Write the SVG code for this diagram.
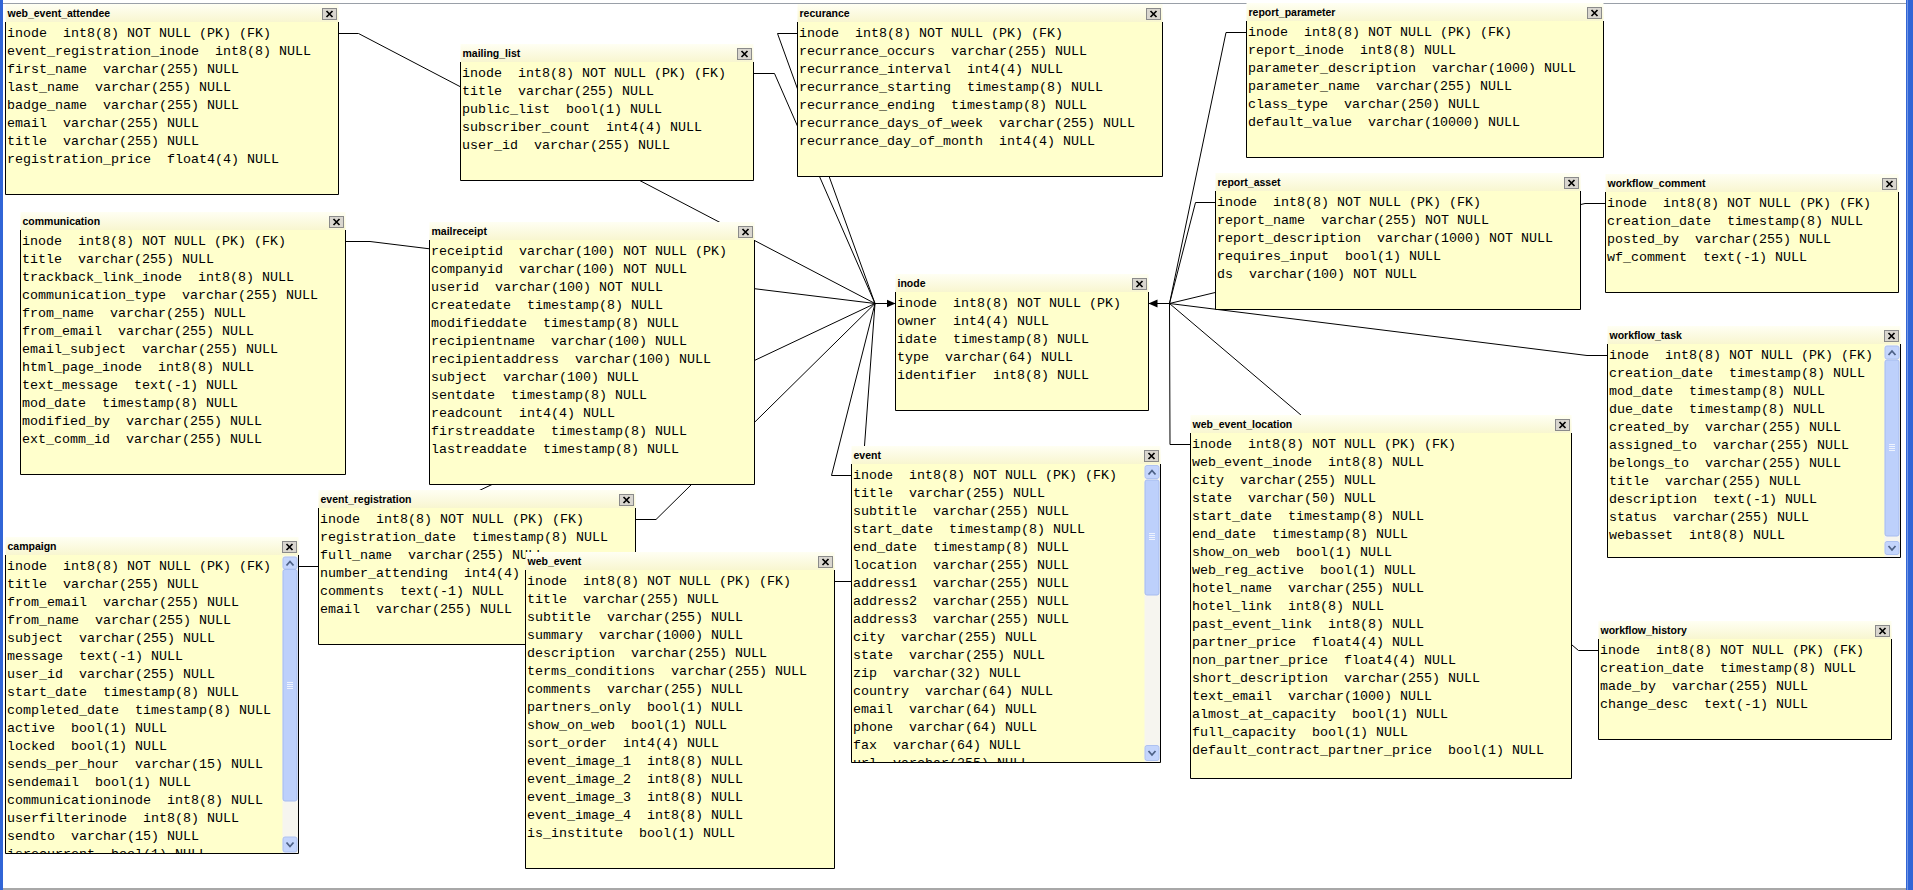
<svg xmlns="http://www.w3.org/2000/svg" width="1913" height="890" viewBox="0 0 1913 890" xml:space="preserve">
<style>
.hd{fill:url(#hg)}
.bd{fill:#ffffcc}
.bdr{fill:none;stroke:#000;stroke-width:1}
.t{font-family:"Liberation Sans",Arial,sans-serif;font-weight:bold;font-size:10.5px;fill:#000}
.r{font-family:"Liberation Mono","Courier New",monospace;font-size:13.33px;fill:#000;white-space:pre}
.cn{fill:none;stroke:#000;stroke-width:1}
.sbt{fill:#f6f5ef}
.sbb{fill:#c4d5fc;stroke:#aec2f0;stroke-width:1}
.sbth{fill:#bdd0fb;stroke:#a6bcef;stroke-width:1}
.chev{fill:none;stroke:#4d6185;stroke-width:1.8}
.grip{fill:none;stroke:#eef3fe;stroke-width:1}
</style>
<defs>
<linearGradient id="hg" x1="0" y1="0" x2="0" y2="1"><stop offset="0" stop-color="#fffff3"/><stop offset="1" stop-color="#f8f6d0"/></linearGradient>
<g id="xb"><rect x="0.5" y="0.5" width="14" height="11" fill="#d9d6cf" stroke="#8a8a8a"/><path d="M4.5,3 L10.5,9 M10.5,3 L4.5,9" stroke="#000" stroke-width="1.7" fill="none"/></g>
<marker id="arr" viewBox="0 0 9 9" refX="9" refY="4.5" markerWidth="9" markerHeight="9" markerUnits="userSpaceOnUse" orient="auto"><path d="M0,0.5 L9,4.5 L0,8.5 z" fill="#000"/></marker>
<clipPath id="cEvent"><rect x="0" y="0" width="293" height="298"/></clipPath>
<clipPath id="cCamp"><rect x="0" y="0" width="277" height="298"/></clipPath>
</defs>

<rect x="0" y="0" width="1913" height="890" fill="#fff"/>
<line x1="0" y1="3.5" x2="1913" y2="3.5" stroke="#9aa0a8"/>
<rect x="0" y="888" width="1913" height="2" fill="#a8a8a8"/>
<rect x="0" y="0" width="3" height="890" fill="#3165d6"/>
<rect x="1906" y="0" width="7" height="890" fill="#3165d6"/>
<line x1="1907.5" y1="0" x2="1907.5" y2="890" stroke="#7397e6"/>

<g id="connectors">
<path class="cn" d="M338.5,33.5 H358.5 L875,303.5"/>
<path class="cn" d="M753.5,73.5 H774.5 L875,303.5"/>
<path class="cn" d="M797.5,33.5 H777.5 L875,303.5"/>
<path class="cn" d="M345.5,241.5 H370 L875,303.5"/>
<path class="cn" d="M298.5,566.5 H318.5 L875,303.5"/>
<path class="cn" d="M635.5,519.5 H656 L875,303.5"/>
<path class="cn" d="M834.5,581.5 H854.5 L875,303.5"/>
<path class="cn" d="M851.5,475.5 H831.5 L875,303.5"/>
<path class="cn" d="M875,303.5 H895.5" marker-end="url(#arr)"/>
<path class="cn" d="M1246.5,32.5 H1226 L1169.5,303.5"/>
<path class="cn" d="M1215.5,202.5 H1195.5 L1169.5,303.5"/>
<path class="cn" d="M1605.5,203.5 H1585 L1169.5,303.5"/>
<path class="cn" d="M1607.5,355.5 H1587 L1169.5,303.5"/>
<path class="cn" d="M1598.5,650.5 H1578.5 L1169.5,303.5"/>
<path class="cn" d="M1190.5,444.5 H1170 L1169.5,303.5"/>
<path class="cn" d="M1169.5,303.5 H1148.5" marker-end="url(#arr)"/>
</g>

<g id="web_event_attendee" transform="translate(5.5,22)">
<rect class="hd" x="0" y="-18" width="333" height="18"/><rect class="bd" x="0" y="0" width="333" height="172.5"/><path class="bdr" d="M0,0V172.5H333V0"/>
<text class="t" x="2" y="-5.5">web_event_attendee</text><use href="#xb" x="316.5" y="-14"/>
<text class="r" x="1.5" y="14.5">inode  int8(8) NOT NULL (PK) (FK)</text>
<text class="r" x="1.5" y="32.5">event_registration_inode  int8(8) NULL</text>
<text class="r" x="1.5" y="50.5">first_name  varchar(255) NULL</text>
<text class="r" x="1.5" y="68.5">last_name  varchar(255) NULL</text>
<text class="r" x="1.5" y="86.5">badge_name  varchar(255) NULL</text>
<text class="r" x="1.5" y="104.5">email  varchar(255) NULL</text>
<text class="r" x="1.5" y="122.5">title  varchar(255) NULL</text>
<text class="r" x="1.5" y="140.5">registration_price  float4(4) NULL</text>
</g>

<g id="mailing_list" transform="translate(460.5,62)">
<rect class="hd" x="0" y="-18" width="293" height="18"/><rect class="bd" x="0" y="0" width="293" height="118.5"/><path class="bdr" d="M0,0V118.5H293V0"/>
<text class="t" x="2" y="-5.5">mailing_list</text><use href="#xb" x="276.5" y="-14"/>
<text class="r" x="1.5" y="14.5">inode  int8(8) NOT NULL (PK) (FK)</text>
<text class="r" x="1.5" y="32.5">title  varchar(255) NULL</text>
<text class="r" x="1.5" y="50.5">public_list  bool(1) NULL</text>
<text class="r" x="1.5" y="68.5">subscriber_count  int4(4) NULL</text>
<text class="r" x="1.5" y="86.5">user_id  varchar(255) NULL</text>
</g>

<g id="recurance" transform="translate(797.5,22)">
<rect class="hd" x="0" y="-18" width="365" height="18"/><rect class="bd" x="0" y="0" width="365" height="154.5"/><path class="bdr" d="M0,0V154.5H365V0"/>
<text class="t" x="2" y="-5.5">recurance</text><use href="#xb" x="348.5" y="-14"/>
<text class="r" x="1.5" y="14.5">inode  int8(8) NOT NULL (PK) (FK)</text>
<text class="r" x="1.5" y="32.5">recurrance_occurs  varchar(255) NULL</text>
<text class="r" x="1.5" y="50.5">recurrance_interval  int4(4) NULL</text>
<text class="r" x="1.5" y="68.5">recurrance_starting  timestamp(8) NULL</text>
<text class="r" x="1.5" y="86.5">recurrance_ending  timestamp(8) NULL</text>
<text class="r" x="1.5" y="104.5">recurrance_days_of_week  varchar(255) NULL</text>
<text class="r" x="1.5" y="122.5">recurrance_day_of_month  int4(4) NULL</text>
</g>

<g id="report_parameter" transform="translate(1246.5,21)">
<rect class="hd" x="0" y="-18" width="357" height="18"/><rect class="bd" x="0" y="0" width="357" height="136.5"/><path class="bdr" d="M0,0V136.5H357V0"/>
<text class="t" x="2" y="-5.5">report_parameter</text><use href="#xb" x="340.5" y="-14"/>
<text class="r" x="1.5" y="14.5">inode  int8(8) NOT NULL (PK) (FK)</text>
<text class="r" x="1.5" y="32.5">report_inode  int8(8) NULL</text>
<text class="r" x="1.5" y="50.5">parameter_description  varchar(1000) NULL</text>
<text class="r" x="1.5" y="68.5">parameter_name  varchar(255) NULL</text>
<text class="r" x="1.5" y="86.5">class_type  varchar(250) NULL</text>
<text class="r" x="1.5" y="104.5">default_value  varchar(10000) NULL</text>
</g>

<g id="report_asset" transform="translate(1215.5,191)">
<rect class="hd" x="0" y="-18" width="365" height="18"/><rect class="bd" x="0" y="0" width="365" height="118.5"/><path class="bdr" d="M0,0V118.5H365V0"/>
<text class="t" x="2" y="-5.5">report_asset</text><use href="#xb" x="348.5" y="-14"/>
<text class="r" x="1.5" y="14.5">inode  int8(8) NOT NULL (PK) (FK)</text>
<text class="r" x="1.5" y="32.5">report_name  varchar(255) NOT NULL</text>
<text class="r" x="1.5" y="50.5">report_description  varchar(1000) NOT NULL</text>
<text class="r" x="1.5" y="68.5">requires_input  bool(1) NULL</text>
<text class="r" x="1.5" y="86.5">ds  varchar(100) NOT NULL</text>
</g>

<g id="workflow_comment" transform="translate(1605.5,192)">
<rect class="hd" x="0" y="-18" width="293" height="18"/><rect class="bd" x="0" y="0" width="293" height="100.5"/><path class="bdr" d="M0,0V100.5H293V0"/>
<text class="t" x="2" y="-5.5">workflow_comment</text><use href="#xb" x="276.5" y="-14"/>
<text class="r" x="1.5" y="14.5">inode  int8(8) NOT NULL (PK) (FK)</text>
<text class="r" x="1.5" y="32.5">creation_date  timestamp(8) NULL</text>
<text class="r" x="1.5" y="50.5">posted_by  varchar(255) NULL</text>
<text class="r" x="1.5" y="68.5">wf_comment  text(-1) NULL</text>
</g>

<g id="communication" transform="translate(20.5,230)">
<rect class="hd" x="0" y="-18" width="325" height="18"/><rect class="bd" x="0" y="0" width="325" height="244.5"/><path class="bdr" d="M0,0V244.5H325V0"/>
<text class="t" x="2" y="-5.5">communication</text><use href="#xb" x="308.5" y="-14"/>
<text class="r" x="1.5" y="14.5">inode  int8(8) NOT NULL (PK) (FK)</text>
<text class="r" x="1.5" y="32.5">title  varchar(255) NULL</text>
<text class="r" x="1.5" y="50.5">trackback_link_inode  int8(8) NULL</text>
<text class="r" x="1.5" y="68.5">communication_type  varchar(255) NULL</text>
<text class="r" x="1.5" y="86.5">from_name  varchar(255) NULL</text>
<text class="r" x="1.5" y="104.5">from_email  varchar(255) NULL</text>
<text class="r" x="1.5" y="122.5">email_subject  varchar(255) NULL</text>
<text class="r" x="1.5" y="140.5">html_page_inode  int8(8) NULL</text>
<text class="r" x="1.5" y="158.5">text_message  text(-1) NULL</text>
<text class="r" x="1.5" y="176.5">mod_date  timestamp(8) NULL</text>
<text class="r" x="1.5" y="194.5">modified_by  varchar(255) NULL</text>
<text class="r" x="1.5" y="212.5">ext_comm_id  varchar(255) NULL</text>
</g>

<g id="mailreceipt" transform="translate(429.5,240)">
<rect class="hd" x="0" y="-18" width="325" height="18"/><rect class="bd" x="0" y="0" width="325" height="244.5"/><path class="bdr" d="M0,0V244.5H325V0"/>
<text class="t" x="2" y="-5.5">mailreceipt</text><use href="#xb" x="308.5" y="-14"/>
<text class="r" x="1.5" y="14.5">receiptid  varchar(100) NOT NULL (PK)</text>
<text class="r" x="1.5" y="32.5">companyid  varchar(100) NOT NULL</text>
<text class="r" x="1.5" y="50.5">userid  varchar(100) NOT NULL</text>
<text class="r" x="1.5" y="68.5">createdate  timestamp(8) NULL</text>
<text class="r" x="1.5" y="86.5">modifieddate  timestamp(8) NULL</text>
<text class="r" x="1.5" y="104.5">recipientname  varchar(100) NULL</text>
<text class="r" x="1.5" y="122.5">recipientaddress  varchar(100) NULL</text>
<text class="r" x="1.5" y="140.5">subject  varchar(100) NULL</text>
<text class="r" x="1.5" y="158.5">sentdate  timestamp(8) NULL</text>
<text class="r" x="1.5" y="176.5">readcount  int4(4) NULL</text>
<text class="r" x="1.5" y="194.5">firstreaddate  timestamp(8) NULL</text>
<text class="r" x="1.5" y="212.5">lastreaddate  timestamp(8) NULL</text>
</g>

<g id="inode" transform="translate(895.5,292)">
<rect class="hd" x="0" y="-18" width="253" height="18"/><rect class="bd" x="0" y="0" width="253" height="118.5"/><path class="bdr" d="M0,0V118.5H253V0"/>
<text class="t" x="2" y="-5.5">inode</text><use href="#xb" x="236.5" y="-14"/>
<text class="r" x="1.5" y="14.5">inode  int8(8) NOT NULL (PK)</text>
<text class="r" x="1.5" y="32.5">owner  int4(4) NULL</text>
<text class="r" x="1.5" y="50.5">idate  timestamp(8) NULL</text>
<text class="r" x="1.5" y="68.5">type  varchar(64) NULL</text>
<text class="r" x="1.5" y="86.5">identifier  int8(8) NULL</text>
</g>

<g id="event" transform="translate(851.5,464)">
<rect class="hd" x="0" y="-18" width="309" height="18"/><rect class="bd" x="0" y="0" width="309" height="298.5"/>
<text class="t" x="2" y="-5.5">event</text><use href="#xb" x="292.5" y="-14"/>
<g clip-path="url(#cEvent)">
<text class="r" x="1.5" y="14.5">inode  int8(8) NOT NULL (PK) (FK)</text>
<text class="r" x="1.5" y="32.5">title  varchar(255) NULL</text>
<text class="r" x="1.5" y="50.5">subtitle  varchar(255) NULL</text>
<text class="r" x="1.5" y="68.5">start_date  timestamp(8) NULL</text>
<text class="r" x="1.5" y="86.5">end_date  timestamp(8) NULL</text>
<text class="r" x="1.5" y="104.5">location  varchar(255) NULL</text>
<text class="r" x="1.5" y="122.5">address1  varchar(255) NULL</text>
<text class="r" x="1.5" y="140.5">address2  varchar(255) NULL</text>
<text class="r" x="1.5" y="158.5">address3  varchar(255) NULL</text>
<text class="r" x="1.5" y="176.5">city  varchar(255) NULL</text>
<text class="r" x="1.5" y="194.5">state  varchar(255) NULL</text>
<text class="r" x="1.5" y="212.5">zip  varchar(32) NULL</text>
<text class="r" x="1.5" y="230.5">country  varchar(64) NULL</text>
<text class="r" x="1.5" y="248.5">email  varchar(64) NULL</text>
<text class="r" x="1.5" y="266.5">phone  varchar(64) NULL</text>
<text class="r" x="1.5" y="284.5">fax  varchar(64) NULL</text>
<text class="r" x="1.5" y="302.5">url  varchar(255) NULL</text>
</g>
<rect class="sbt" x="293" y="0.5" width="15.5" height="297.5"/>
<rect class="sbb" x="293.5" y="1.5" width="14" height="13" rx="2"/><path class="chev" d="M297,10.5 L300.5,6.5 L304,10.5"/>
<rect class="sbth" x="293.5" y="16" width="14" height="115" rx="2"/><path class="grip" d="M297.5,69.5h6M297.5,71.5h6M297.5,73.5h6M297.5,75.5h6"/>
<rect class="sbb" x="293.5" y="281.5" width="14" height="15" rx="2"/><path class="chev" d="M297,287 L300.5,291 L304,287"/>
<path class="bdr" d="M0,0V298.5H309V0"/>
</g>

<g id="web_event_location" transform="translate(1190.5,433)">
<rect class="hd" x="0" y="-18" width="381" height="18"/><rect class="bd" x="0" y="0" width="381" height="345.5"/><path class="bdr" d="M0,0V345.5H381V0"/>
<text class="t" x="2" y="-5.5">web_event_location</text><use href="#xb" x="364.5" y="-14"/>
<text class="r" x="1.5" y="14.5">inode  int8(8) NOT NULL (PK) (FK)</text>
<text class="r" x="1.5" y="32.5">web_event_inode  int8(8) NULL</text>
<text class="r" x="1.5" y="50.5">city  varchar(255) NULL</text>
<text class="r" x="1.5" y="68.5">state  varchar(50) NULL</text>
<text class="r" x="1.5" y="86.5">start_date  timestamp(8) NULL</text>
<text class="r" x="1.5" y="104.5">end_date  timestamp(8) NULL</text>
<text class="r" x="1.5" y="122.5">show_on_web  bool(1) NULL</text>
<text class="r" x="1.5" y="140.5">web_reg_active  bool(1) NULL</text>
<text class="r" x="1.5" y="158.5">hotel_name  varchar(255) NULL</text>
<text class="r" x="1.5" y="176.5">hotel_link  int8(8) NULL</text>
<text class="r" x="1.5" y="194.5">past_event_link  int8(8) NULL</text>
<text class="r" x="1.5" y="212.5">partner_price  float4(4) NULL</text>
<text class="r" x="1.5" y="230.5">non_partner_price  float4(4) NULL</text>
<text class="r" x="1.5" y="248.5">short_description  varchar(255) NULL</text>
<text class="r" x="1.5" y="266.5">text_email  varchar(1000) NULL</text>
<text class="r" x="1.5" y="284.5">almost_at_capacity  bool(1) NULL</text>
<text class="r" x="1.5" y="302.5">full_capacity  bool(1) NULL</text>
<text class="r" x="1.5" y="320.5">default_contract_partner_price  bool(1) NULL</text>
</g>

<g id="workflow_task" transform="translate(1607.5,344)">
<rect class="hd" x="0" y="-18" width="293" height="18"/><rect class="bd" x="0" y="0" width="293" height="213.5"/>
<text class="t" x="2" y="-5.5">workflow_task</text><use href="#xb" x="276.5" y="-14"/>
<text class="r" x="1.5" y="14.5">inode  int8(8) NOT NULL (PK) (FK)</text>
<text class="r" x="1.5" y="32.5">creation_date  timestamp(8) NULL</text>
<text class="r" x="1.5" y="50.5">mod_date  timestamp(8) NULL</text>
<text class="r" x="1.5" y="68.5">due_date  timestamp(8) NULL</text>
<text class="r" x="1.5" y="86.5">created_by  varchar(255) NULL</text>
<text class="r" x="1.5" y="104.5">assigned_to  varchar(255) NULL</text>
<text class="r" x="1.5" y="122.5">belongs_to  varchar(255) NULL</text>
<text class="r" x="1.5" y="140.5">title  varchar(255) NULL</text>
<text class="r" x="1.5" y="158.5">description  text(-1) NULL</text>
<text class="r" x="1.5" y="176.5">status  varchar(255) NULL</text>
<text class="r" x="1.5" y="194.5">webasset  int8(8) NULL</text>
<rect class="sbt" x="277" y="0.5" width="15.5" height="212.5"/>
<rect class="sbb" x="277.5" y="2" width="14" height="13" rx="2"/><path class="chev" d="M281,11 L284.5,7 L288,11"/>
<rect class="sbth" x="277.5" y="16" width="14" height="176" rx="2"/><path class="grip" d="M281.5,100.5h6M281.5,102.5h6M281.5,104.5h6M281.5,106.5h6"/>
<rect class="sbb" x="277.5" y="197.5" width="14" height="13" rx="2"/><path class="chev" d="M281,202 L284.5,206 L288,202"/>
<path class="bdr" d="M0,0V213.5H293V0"/>
</g>

<g id="workflow_history" transform="translate(1598.5,639)">
<rect class="hd" x="0" y="-18" width="293" height="18"/><rect class="bd" x="0" y="0" width="293" height="100.5"/><path class="bdr" d="M0,0V100.5H293V0"/>
<text class="t" x="2" y="-5.5">workflow_history</text><use href="#xb" x="276.5" y="-14"/>
<text class="r" x="1.5" y="14.5">inode  int8(8) NOT NULL (PK) (FK)</text>
<text class="r" x="1.5" y="32.5">creation_date  timestamp(8) NULL</text>
<text class="r" x="1.5" y="50.5">made_by  varchar(255) NULL</text>
<text class="r" x="1.5" y="68.5">change_desc  text(-1) NULL</text>
</g>

<g id="event_registration" transform="translate(318.5,508)">
<rect class="hd" x="0" y="-18" width="317" height="18"/><rect class="bd" x="0" y="0" width="317" height="136.5"/><path class="bdr" d="M0,0V136.5H317V0"/>
<text class="t" x="2" y="-5.5">event_registration</text><use href="#xb" x="300.5" y="-14"/>
<text class="r" x="1.5" y="14.5">inode  int8(8) NOT NULL (PK) (FK)</text>
<text class="r" x="1.5" y="32.5">registration_date  timestamp(8) NULL</text>
<text class="r" x="1.5" y="50.5">full_name  varchar(255) NULL</text>
<text class="r" x="1.5" y="68.5">number_attending  int4(4) NULL</text>
<text class="r" x="1.5" y="86.5">comments  text(-1) NULL</text>
<text class="r" x="1.5" y="104.5">email  varchar(255) NULL</text>
</g>

<g id="web_event" transform="translate(525.5,570)">
<rect class="hd" x="0" y="-18" width="309" height="18"/><rect class="bd" x="0" y="0" width="309" height="298.5"/><path class="bdr" d="M0,0V298.5H309V0"/>
<text class="t" x="2" y="-5.5">web_event</text><use href="#xb" x="292.5" y="-14"/>
<text class="r" x="1.5" y="14.5">inode  int8(8) NOT NULL (PK) (FK)</text>
<text class="r" x="1.5" y="32.5">title  varchar(255) NULL</text>
<text class="r" x="1.5" y="50.5">subtitle  varchar(255) NULL</text>
<text class="r" x="1.5" y="68.5">summary  varchar(1000) NULL</text>
<text class="r" x="1.5" y="86.5">description  varchar(255) NULL</text>
<text class="r" x="1.5" y="104.5">terms_conditions  varchar(255) NULL</text>
<text class="r" x="1.5" y="122.5">comments  varchar(255) NULL</text>
<text class="r" x="1.5" y="140.5">partners_only  bool(1) NULL</text>
<text class="r" x="1.5" y="158.5">show_on_web  bool(1) NULL</text>
<text class="r" x="1.5" y="176.5">sort_order  int4(4) NULL</text>
<text class="r" x="1.5" y="194.5">event_image_1  int8(8) NULL</text>
<text class="r" x="1.5" y="212.5">event_image_2  int8(8) NULL</text>
<text class="r" x="1.5" y="230.5">event_image_3  int8(8) NULL</text>
<text class="r" x="1.5" y="248.5">event_image_4  int8(8) NULL</text>
<text class="r" x="1.5" y="266.5">is_institute  bool(1) NULL</text>
</g>

<g id="campaign" transform="translate(5.5,555)">
<rect class="hd" x="0" y="-18" width="293" height="18"/><rect class="bd" x="0" y="0" width="293" height="298.5"/>
<text class="t" x="2" y="-5.5">campaign</text><use href="#xb" x="276.5" y="-14"/>
<g clip-path="url(#cCamp)">
<text class="r" x="1.5" y="14.5">inode  int8(8) NOT NULL (PK) (FK)</text>
<text class="r" x="1.5" y="32.5">title  varchar(255) NULL</text>
<text class="r" x="1.5" y="50.5">from_email  varchar(255) NULL</text>
<text class="r" x="1.5" y="68.5">from_name  varchar(255) NULL</text>
<text class="r" x="1.5" y="86.5">subject  varchar(255) NULL</text>
<text class="r" x="1.5" y="104.5">message  text(-1) NULL</text>
<text class="r" x="1.5" y="122.5">user_id  varchar(255) NULL</text>
<text class="r" x="1.5" y="140.5">start_date  timestamp(8) NULL</text>
<text class="r" x="1.5" y="158.5">completed_date  timestamp(8) NULL</text>
<text class="r" x="1.5" y="176.5">active  bool(1) NULL</text>
<text class="r" x="1.5" y="194.5">locked  bool(1) NULL</text>
<text class="r" x="1.5" y="212.5">sends_per_hour  varchar(15) NULL</text>
<text class="r" x="1.5" y="230.5">sendemail  bool(1) NULL</text>
<text class="r" x="1.5" y="248.5">communicationinode  int8(8) NULL</text>
<text class="r" x="1.5" y="266.5">userfilterinode  int8(8) NULL</text>
<text class="r" x="1.5" y="284.5">sendto  varchar(15) NULL</text>
<text class="r" x="1.5" y="302.5">isrecurrent  bool(1) NULL</text>
</g>
<rect class="sbt" x="277" y="0.5" width="15.5" height="297.5"/>
<rect class="sbb" x="277.5" y="2" width="14" height="12" rx="2"/><path class="chev" d="M281,10.5 L284.5,6.5 L288,10.5"/>
<rect class="sbth" x="277.5" y="14.5" width="14" height="231.5" rx="2"/><path class="grip" d="M281.5,127.5h6M281.5,129.5h6M281.5,131.5h6M281.5,133.5h6"/>
<rect class="sbb" x="277.5" y="282" width="14" height="15" rx="2"/><path class="chev" d="M281,287.5 L284.5,291.5 L288,287.5"/>
<path class="bdr" d="M0,0V298.5H293V0"/>
</g>
</svg>
